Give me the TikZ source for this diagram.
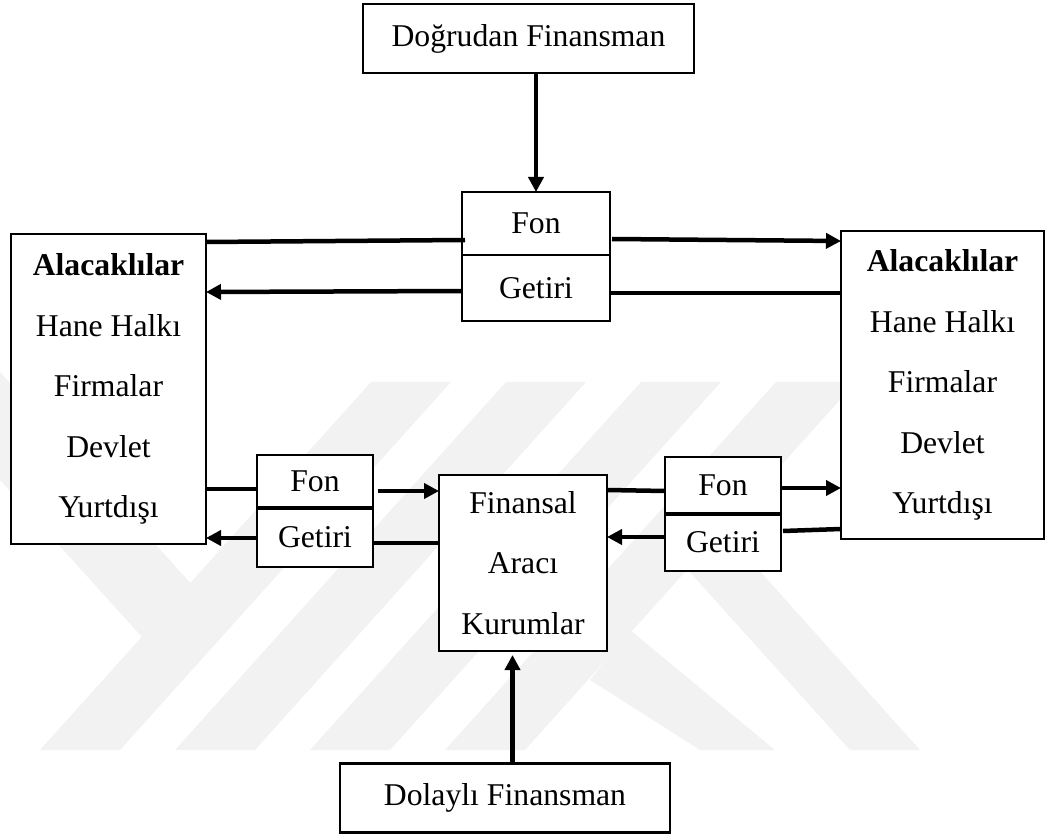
\documentclass[tikz,border=0pt]{standalone}
\usepackage{fontspec}
\setmainfont{Liberation Serif}
\usetikzlibrary{arrows.meta,calc}
\begin{document}
\begin{tikzpicture}[x=1pt,y=-1pt,
  box/.style={draw,line width=2.5pt,fill=white,inner sep=0pt,outer sep=0pt,align=center,
    font=\fontsize{31.7}{60.5}\selectfont},
  conn/.style={line width=4.5pt},
  arr/.style={conn,-{Triangle[length=15pt,width=15pt]}},
  wm/.style={fill=black!5,draw=none}]
\useasboundingbox (0,0) rectangle (1045,834);
% faint watermark
\fill[wm] (40,750) -- (120,750) -- (451,382) -- (371,382) -- cycle;
\fill[wm] (175,750) -- (255,750) -- (586,382) -- (506,382) -- cycle;
\fill[wm] (310,750) -- (390,750) -- (721,382) -- (641,382) -- cycle;
\fill[wm] (445,750) -- (525,750) -- (856,382) -- (776,382) -- cycle;
\fill[wm] (0,372) -- (231,628) -- (142,637) -- (0,480) -- cycle;
\fill[wm] (687,569) -- (724,531) -- (920,750) -- (850,750) -- cycle;
\fill[wm] (590,680) -- (630,630) -- (775,750) -- (700,750) -- cycle;
% boxes
\node[box,minimum width=331pt,minimum height=69pt] (top) at (528.5,38.5) {Doğrudan Finansman};
\node[box,minimum width=148pt,minimum height=63pt] (fonT) at (536,223.5) {Fon};
\node[box,minimum width=148pt,minimum height=66pt] (getT) at (536,288) {Getiri};
\node[box,minimum width=195pt,minimum height=310pt] (L) at (108.5,389)
  {\textbf{Alacaklılar}\\Hane Halkı\\Firmalar\\Devlet\\Yurtdışı};
\node[box,minimum width=203pt,minimum height=308pt] (R) at (942.5,385)
  {\textbf{Alacaklılar}\\Hane Halkı\\Firmalar\\Devlet\\Yurtdışı};
\node[box,minimum width=116pt,minimum height=53pt] (fonL) at (315,481.5) {Fon};
\node[box,minimum width=116pt,minimum height=59pt] (getL) at (315,537.5) {Getiri};
\node[box,minimum width=168pt,minimum height=176pt] (fin) at (523,563) {Finansal\\Aracı\\Kurumlar};
\node[box,minimum width=116pt,minimum height=57pt] (fonR) at (723,485.5) {Fon};
\node[box,minimum width=116pt,minimum height=57pt] (getR) at (723,542.5) {Getiri};
\node[box,minimum width=330pt,minimum height=69pt] (bot) at (505,798) {Dolaylı Finansman};
\draw[line width=4.5pt] (fonL.south west) -- (fonL.south east);
\draw[line width=4.5pt] (fonR.south west) -- (fonR.south east);
% connectors
\draw[arr] (fonT.north |- top.south) -- (fonT.north);
\draw[arr] ($(bot.north)+(7.5,0)$) -- ($(fin.south)+(-10.5,4)$);
\draw[conn] ($(L.north east)+(0,8)$) -- ($(fonT.north west)+(3,48)$);
\draw[arr] ($(fonT.north east)+(2,47)$) -- ($(R.north west)+(0,10)$);
\draw[conn] ($(R.north west)+(0,62)$) -- ($(getT.north east)+(0,38)$);
\draw[arr] ($(getT.north west)+(0,36)$) -- ($(L.north east)+(0,58)$);
\draw[conn] ($(L.north east)+(1,255)$) -- ($(fonL.north west)+(0,34)$);
\draw[arr] ($(fonL.north east)+(5,36)$) -- ($(fin.north west)+(0,16)$);
\draw[arr] ($(getL.north west)+(0,30)$) -- ($(L.south east)+(0,-6)$);
\draw[conn] ($(fin.north west)+(1,68)$) -- ($(getL.north east)+(0,35)$);
\draw[conn] ($(fin.north east)+(0,15)$) -- ($(fonR.north west)+(0,34)$);
\draw[arr] ($(fonR.north east)+(0,31)$) -- ($(R.north west)+(0,257)$);
\draw[arr] ($(getR.north west)+(0,23)$) -- ($(fin.north east)+(0,62)$);
\draw[conn] ($(R.south west)+(0,-10)$) -- ($(getR.north east)+(2,17)$);
\end{tikzpicture}
\end{document}
